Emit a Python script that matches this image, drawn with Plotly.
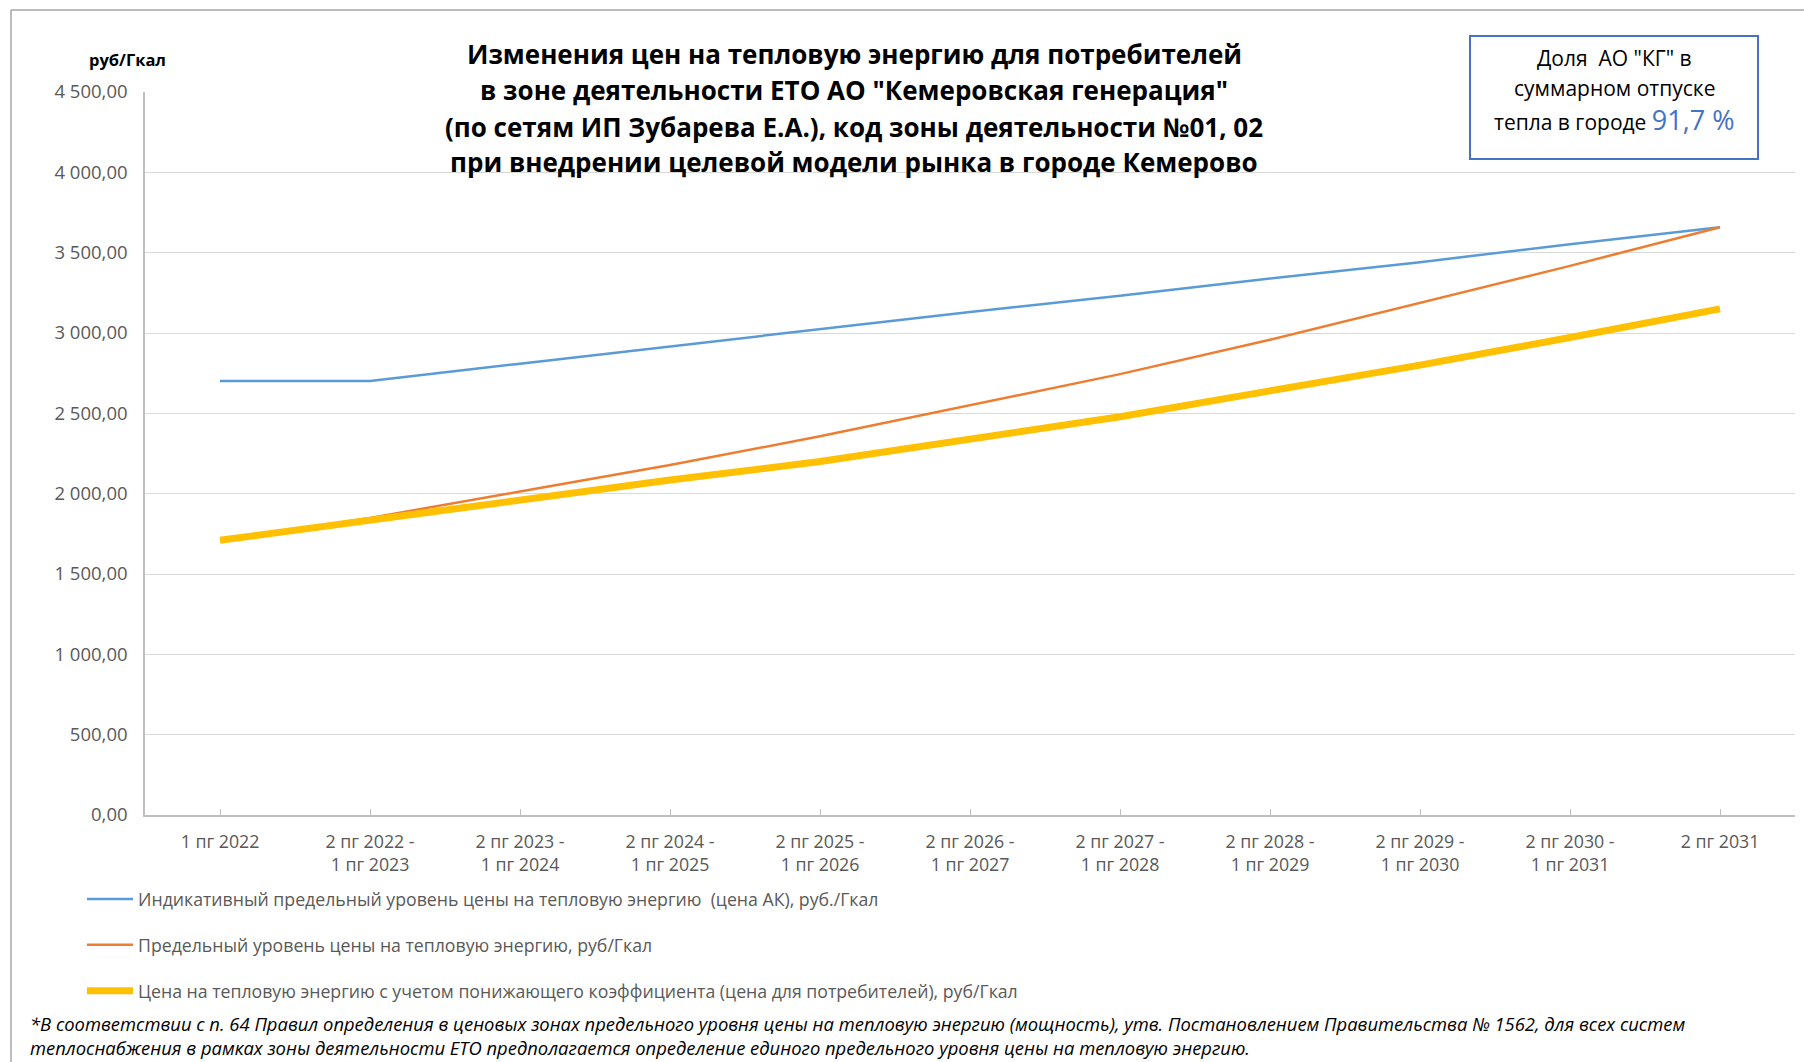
import plotly.graph_objects as go

categories = ["1 пг 2022", "2 пг 2022 -<br>1 пг 2023", "2 пг 2023 -<br>1 пг 2024", "2 пг 2024 -<br>1 пг 2025",
              "2 пг 2025 -<br>1 пг 2026", "2 пг 2026 -<br>1 пг 2027", "2 пг 2027 -<br>1 пг 2028",
              "2 пг 2028 -<br>1 пг 2029", "2 пг 2029 -<br>1 пг 2030", "2 пг 2030 -<br>1 пг 2031", "2 пг 2031"]
indicative_price = [2701, 2701, 2809, 2916, 3024, 3131, 3232, 3339, 3441, 3553, 3658]
limit_price = [1710, 1849, 2013, 2178, 2357, 2551, 2744, 2958, 3190, 3418, 3658]
consumer_price = [1710, 1838, 1956, 2085, 2200, 2336, 2479, 2640, 2800, 2972, 3150]

y_ticks = [0, 500, 1000, 1500, 2000, 2500, 3000, 3500, 4000, 4500]
y_tick_text = ["0,00", "500,00", "1 000,00", "1 500,00", "2 000,00", "2 500,00", "3 000,00",
               "3 500,00", "4 000,00", "4 500,00"]

series_names = [
    "Индикативный предельный уровень цены на тепловую энергию  (цена АК), руб./Гкал",
    "Предельный уровень цены на тепловую энергию, руб/Гкал",
    "Цена на тепловую энергию с учетом понижающего коэффициента (цена для потребителей), руб/Гкал",
]

title_lines = [
    "Изменения цен на тепловую энергию для потребителей",
    "в зоне деятельности ЕТО АО \"Кемеровская генерация\"",
    "(по сетям ИП Зубарева Е.А.), код зоны деятельности №01, 02",
    "при внедрении целевой модели рынка в городе Кемерово",
]

footnote = ("*В соответствии с п. 64 Правил определения в ценовых зонах предельного уровня цены на тепловую энергию (мощность), "
            "утв. Постановлением Правительства № 1562, для всех систем<br>"
            "теплоснабжения в рамках зоны деятельности ЕТО предполагается определение единого предельного уровня цены на тепловую энергию.")

W, H = 1804, 1062
L, R, T, B = 145, 1795, 92, 815
FONT = "Open Sans"


def px(x):
    return (x - L) / (R - L)


def py(y):
    return (B - y) / (B - T)


fig = go.Figure()
fig.add_trace(go.Scatter(x=list(range(len(categories))), y=indicative_price, mode="lines", name=series_names[0],
                         line=dict(color="#5B9BD5", width=2.5), legendgroup="a"))
fig.add_trace(go.Scatter(x=list(range(len(categories))), y=limit_price, mode="lines", name=series_names[1],
                         line=dict(color="#ED7D31", width=2.5), legendgroup="b"))
fig.add_trace(go.Scatter(x=list(range(len(categories))), y=consumer_price, mode="lines", name=series_names[2],
                         line=dict(color="#FFC000", width=7), legendgroup="c"))

annotations = []
title_y = [54, 90, 127, 162]
for line, yy in zip(title_lines, title_y):
    annotations.append(dict(xref="paper", yref="paper", x=px(854), y=py(yy), text=f"<b>{line}</b>",
                            showarrow=False, xanchor="center", yanchor="middle",
                            font=dict(family=FONT, size=26, color="#000000")))

annotations.append(dict(xref="paper", yref="paper", x=px(87), y=py(60), text="<b>руб/Гкал</b>",
                        showarrow=False, xanchor="left", yanchor="middle",
                        font=dict(family=FONT, size=16.5, color="#000000")))

box_lines = [("Доля  АО \"КГ\" в", 58), ("суммарном отпуске", 88)]
for t, yy in box_lines:
    annotations.append(dict(xref="paper", yref="paper", x=px(1614), y=py(yy), text=t, showarrow=False,
                            xanchor="center", yanchor="middle", font=dict(family=FONT, size=21, color="#000000")))
annotations.append(dict(xref="paper", yref="paper", x=px(1614), y=py(120),
                        text="тепла в городе <span style='font-size:27px;color:#4472C4'>91,7 %</span>",
                        showarrow=False, xanchor="center", yanchor="middle",
                        font=dict(family=FONT, size=21, color="#000000")))

annotations.append(dict(xref="paper", yref="paper", x=px(28), y=py(1035), text=f"<i>{footnote}</i>",
                        showarrow=False, xanchor="left", yanchor="middle", align="left",
                        font=dict(family=FONT, size=18.4, color="#000000")))

shapes = [
    dict(type="rect", xref="paper", yref="paper", x0=px(1470), x1=px(1758), y0=py(36), y1=py(159),
         line=dict(color="#4472C4", width=2), fillcolor="rgba(0,0,0,0)"),
    dict(type="line", xref="paper", yref="paper", x0=px(11), x1=px(11), y0=py(10), y1=py(1080),
         line=dict(color="#A6A6A6", width=1.5)),
    dict(type="line", xref="paper", yref="paper", x0=px(11), x1=px(1820), y0=py(10), y1=py(10),
         line=dict(color="#A6A6A6", width=1.5)),
]

fig.update_layout(
    width=W, height=H,
    margin=dict(l=L, r=W - R, t=T, b=H - B),
    paper_bgcolor="white", plot_bgcolor="white",
    font=dict(family=FONT, size=18, color="#595959"),
    showlegend=True,
    legend=dict(orientation="v", x=px(82), y=py(881), xanchor="left", yanchor="top",
                font=dict(family=FONT, size=17.7, color="#595959"), tracegroupgap=19.8,
                itemwidth=46, bgcolor="rgba(0,0,0,0)"),
    annotations=annotations,
    shapes=shapes,
    xaxis=dict(range=[-0.5, len(categories) - 0.5], tickmode="array", tickvals=list(range(len(categories))),
               ticktext=categories, showgrid=False, showline=True, linecolor="#BFBFBF", linewidth=1.5,
               ticks="inside", ticklen=6, tickcolor="#BFBFBF", zeroline=False, ticklabelstandoff=10,
               tickfont=dict(family=FONT, size=17.8, color="#595959")),
    yaxis=dict(range=[0, 4500], tickmode="array", tickvals=y_ticks, ticktext=y_tick_text,
               showgrid=True, gridcolor="#D9D9D9", gridwidth=1, showline=True, linecolor="#BFBFBF",
               linewidth=1.5, zeroline=False, ticks="", ticklabelstandoff=12,
               tickfont=dict(family=FONT, size=18.5, color="#595959")),
)

fig.write_html("out.html")
